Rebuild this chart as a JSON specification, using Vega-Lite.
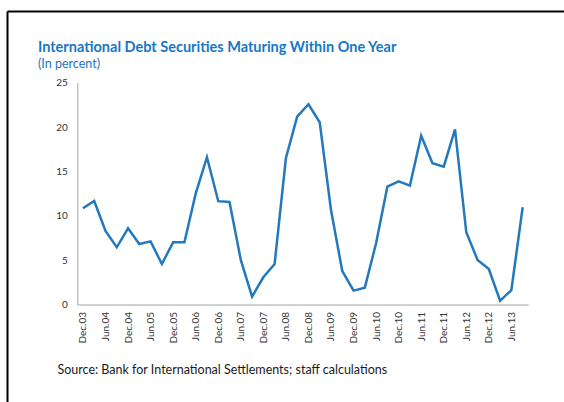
{
  "$schema": "https://vega.github.io/schema/vega-lite/v6.json",
  "width": 557,
  "height": 391,
  "autosize": {"type": "none"},
  "padding": {"left": 7, "top": 11, "right": 0, "bottom": 0},
  "background": "white",
  "title": {
    "text": "International Debt Securities Maturing Within One Year",
    "subtitle": "(In percent)",
    "anchor": "start",
    "frame": "group",
    "orient": "top",
    "offset": -60.5,
    "dx": 31,
    "font": "Lato",
    "fontSize": 14.5,
    "fontWeight": "bold",
    "color": "#1877c4",
    "subtitleFont": "Lato",
    "subtitleFontSize": 12.5,
    "subtitleColor": "#1877c4",
    "subtitlePadding": 3
  },
  "data": {
    "values": [
      {"q": "Dec.03", "v": 10.85},
      {"q": "Mar.04", "v": 11.67},
      {"q": "Jun.04", "v": 8.29},
      {"q": "Sep.04", "v": 6.45},
      {"q": "Dec.04", "v": 8.59},
      {"q": "Mar.05", "v": 6.82},
      {"q": "Jun.05", "v": 7.12},
      {"q": "Sep.05", "v": 4.57},
      {"q": "Dec.05", "v": 7.01},
      {"q": "Mar.06", "v": 7.01},
      {"q": "Jun.06", "v": 12.5},
      {"q": "Sep.06", "v": 16.6},
      {"q": "Dec.06", "v": 11.65},
      {"q": "Mar.07", "v": 11.56},
      {"q": "Jun.07", "v": 5.02},
      {"q": "Sep.07", "v": 0.88},
      {"q": "Dec.07", "v": 3.07},
      {"q": "Mar.08", "v": 4.57},
      {"q": "Jun.08", "v": 16.48},
      {"q": "Sep.08", "v": 21.17},
      {"q": "Dec.08", "v": 22.57},
      {"q": "Mar.09", "v": 20.54},
      {"q": "Jun.09", "v": 10.65},
      {"q": "Sep.09", "v": 3.78},
      {"q": "Dec.09", "v": 1.56},
      {"q": "Mar.10", "v": 1.9},
      {"q": "Jun.10", "v": 6.9},
      {"q": "Sep.10", "v": 13.28},
      {"q": "Dec.10", "v": 13.89},
      {"q": "Mar.11", "v": 13.4},
      {"q": "Jun.11", "v": 19.03},
      {"q": "Sep.11", "v": 15.92},
      {"q": "Dec.11", "v": 15.54},
      {"q": "Mar.12", "v": 19.75},
      {"q": "Jun.12", "v": 8.14},
      {"q": "Sep.12", "v": 5.02},
      {"q": "Dec.12", "v": 4.0},
      {"q": "Mar.13", "v": 0.43},
      {"q": "Jun.13", "v": 1.63},
      {"q": "Sep.13", "v": 10.96}
    ]
  },
  "layer": [
    {
      "mark": {"type": "point", "opacity": 0},
      "encoding": {
        "x": {
          "field": "q", "type": "ordinal", "sort": null,
          "axis": {"orient": "top", "domainColor": "#000000", "domainWidth": 2, "labels": false, "ticks": false, "title": null, "grid": false}
        },
        "y": {
          "field": "v", "type": "quantitative",
          "axis": {"orient": "left", "domainColor": "#000000", "domainWidth": 2, "labels": false, "ticks": false, "title": null, "grid": false}
        }
      }
    },
    {
      "mark": {"type": "line", "color": "#2479bd", "strokeWidth": 2.5},
      "encoding": {
        "x": {
          "field": "q", "type": "ordinal", "sort": null,
          "scale": {"type": "point", "range": [70.3, 521.3], "padding": 0.5},
          "axis": {
            "orient": "bottom",
            "offset": -97.5,
            "labelAngle": -90,
            "labelExpr": "indexof(datum.label,'Mar')==0 || indexof(datum.label,'Sep')==0 ? '' : datum.label",
            "labelOverlap": false,
            "labelFont": "Lato",
            "labelFontSize": 10,
            "labelColor": "#333333",
            "labelPadding": 7,
            "ticks": false,
            "grid": false,
            "domainColor": "#a6a6a6",
            "domainWidth": 1,
            "title": "Source: Bank for International Settlements; staff calculations",
            "titleX": 50,
            "titleY": 68.5,
            "titleAlign": "left",
            "titleAnchor": "start",
            "titleBaseline": "alphabetic",
            "titleFont": "Lato",
            "titleFontSize": 12.5,
            "titleFontWeight": "normal",
            "titleColor": "#1a1a1a"
          }
        },
        "y": {
          "field": "v", "type": "quantitative",
          "scale": {"domain": [0, 25], "range": [293.5, 71.7], "nice": false, "zero": true},
          "axis": {
            "orient": "left",
            "offset": -70.3,
            "values": [0, 5, 10, 15, 20, 25],
            "ticks": false,
            "grid": false,
            "labelFont": "Lato",
            "labelFontSize": 10,
            "labelColor": "#333333",
            "labelPadding": 10,
            "domainColor": "#a6a6a6",
            "domainWidth": 1,
            "title": null
          }
        }
      }
    }
  ],
  "resolve": {
    "scale": {"x": "independent", "y": "independent"},
    "axis": {"x": "independent", "y": "independent"}
  },
  "config": {"view": {"stroke": null}, "font": "Lato"}
}
